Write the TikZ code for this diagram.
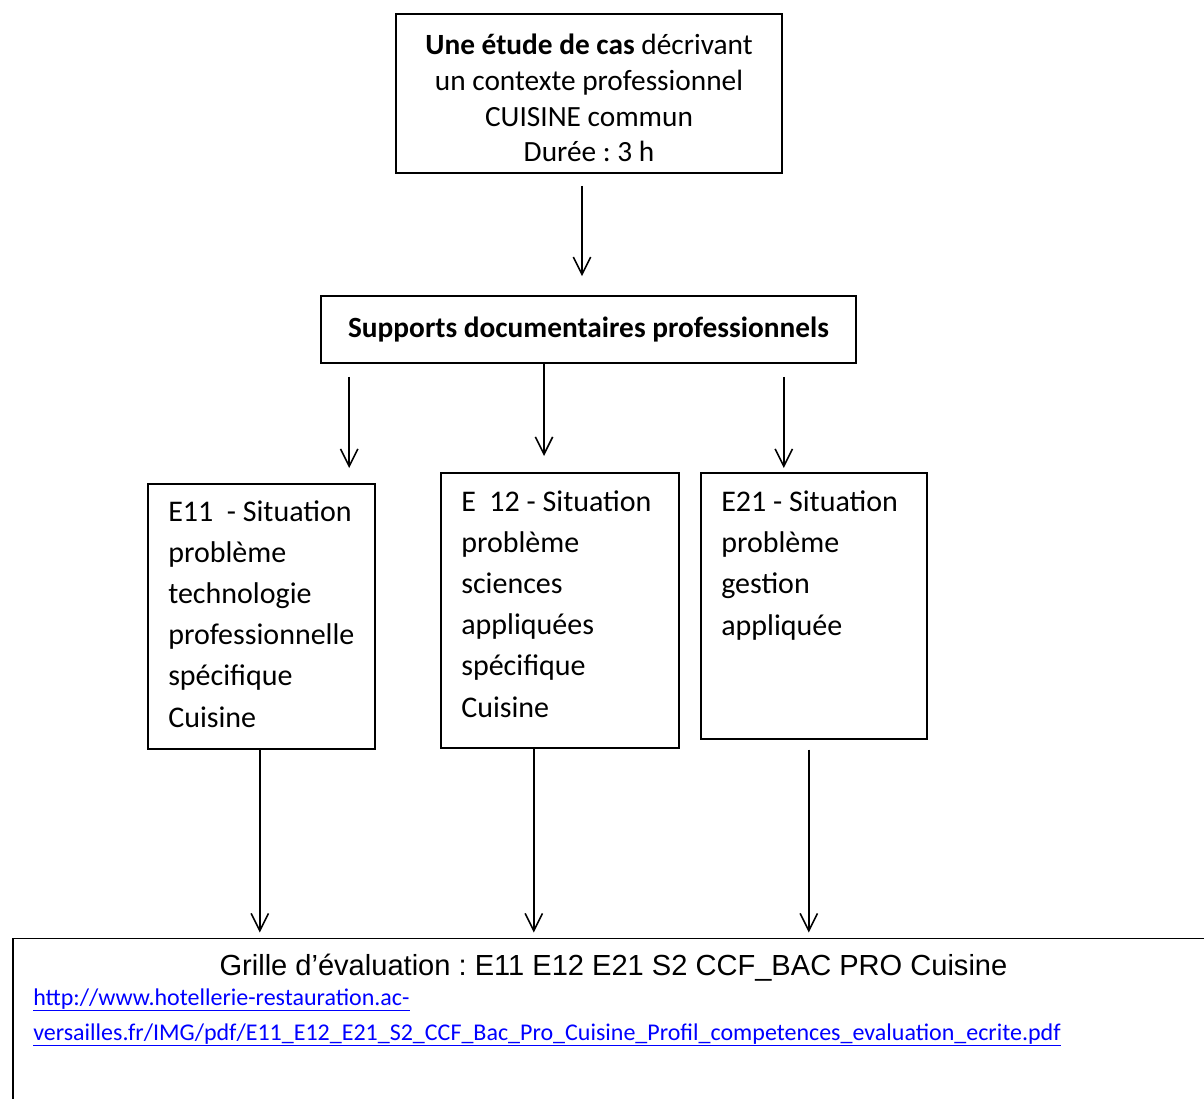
\documentclass[tikz,border=0pt]{standalone}
\usepackage{fontspec}
\setmainfont{Carlito}
\newfontfamily\arialfont{Liberation Sans}
\usetikzlibrary{arrows.meta}

\definecolor{lienbleu}{RGB}{0,0,255}

\tikzset{
  cadre/.style={draw, line width=1.2pt, inner sep=0pt},
  texte/.style={inner sep=0pt, align=left, anchor=base west,
    font=\fontsize{22.5}{30.9}\selectfont},
  lien/.style={inner sep=0pt, anchor=base west, text=lienbleu,
    font=\fontsize{18}{21}\selectfont},
  fleche/.style={line width=1.2pt,
    -{Straight Barb[length=13pt,width=13pt,line width=1.2pt]}}
}

\begin{document}
\frenchspacing
\begin{tikzpicture}[x=0.75pt, y=-0.75pt]
    \useasboundingbox (0,0) rectangle (1204,1099);
    \clip (0,0) rectangle (1204,1099);

    % boites du haut
    \node[cadre, minimum width=289.5pt, minimum height=119.25pt, align=center,
        font=\fontsize{22}{26.8}\selectfont] (cas) at (589,93.5)
        {\rule{0pt}{22.5pt}\textbf{Une étude de cas} décrivant\\un contexte professionnel\\CUISINE commun\\Durée : 3 h};
    \node[cadre, minimum width=401.25pt, minimum height=50.25pt,
        font=\fontsize{22}{26.8}\selectfont\bfseries] (supports) at (588.5,329.5)
        {Supports documentaires professionnels\hspace{6pt}};

    % les trois epreuves
    \node[cadre, anchor=north west, minimum width=170.25pt, minimum height=198.75pt] (e11) at (147,483) {};
    \node[cadre, anchor=north west, minimum width=178.5pt, minimum height=206.25pt] (e12) at (440,472) {};
    \node[cadre, anchor=north west, minimum width=169.5pt, minimum height=199.5pt] (e21) at (700,472) {};

    \node[texte] (e11t) at ([shift={(21,244)}]e11.north west)
        {E11~ - Situation\\problème\\technologie\\professionnelle\\spécifique\\Cuisine};
    \node[texte] (e12t) at ([shift={(21,245)}]e12.north west)
        {E~ 12 - Situation\\problème\\sciences\\appliquées\\spécifique\\Cuisine};
    \node[texte] (e21t) at ([shift={(21,163)}]e21.north west)
        {E21 - Situation\\problème\\gestion\\appliquée};

    % grille
    \node[cadre, anchor=north west, minimum width=915pt, minimum height=150pt] (grille) at (12,937.5) {};
    \node[inner sep=0pt, anchor=base, font=\arialfont\fontsize{21.8}{25}\selectfont] (titre) at (613.5,975)
        {Grille d’évaluation : E11 E12 E21 S2 CCF\_BAC PRO Cuisine};
    \node[lien] (lien1) at (33,1005) {\underline{http://www.hotellerie-restauration.ac-}};
    \node[lien] (lien2) at (33,1040)
        {\underline{versailles.fr/IMG/pdf/E11\_E12\_E21\_S2\_CCF\_Bac\_Pro\_Cuisine\_Profil\_competences\_evaluation\_ecrite.pdf}};

    % departs et arrivees des fleches
    \coordinate (d0) at ([shift={(-7,12)}]cas.south);
    \coordinate (f0) at ([shift={(0,-19)}]supports.north);
    \coordinate (d1) at ([shift={(29,13)}]supports.south west);
    \coordinate (f1) at ([shift={(0,-15)}]e11.north);
    \coordinate (d2) at ([shift={(-44.5,0)}]supports.south);
    \coordinate (f2) at ([shift={(0,-16)}]e12.north);
    \coordinate (d3) at ([shift={(-73,13)}]supports.south east);
    \coordinate (f3) at ([shift={(0,-4)}]e21.north);
    \coordinate (d4) at ([shift={(-1.5,0)}]e11.south);
    \coordinate (d5) at ([shift={(-26,0)}]e12.south);
    \coordinate (d6) at ([shift={(-5,10)}]e21.south);
    \coordinate (f4) at ([shift={(0,-5)}]grille.north);

    % fleches
    \draw[fleche] (d0) -- (d0 |- f0);
    \draw[fleche] (d1) -- (d1 |- f1);
    \draw[fleche] (d2) -- (d2 |- f2);
    \draw[fleche] (d3) -- (d3 |- f3);
    \foreach \d in {d4,d5,d6}
        \draw[fleche] (\d) -- (\d |- f4);
\end{tikzpicture}
\end{document}
